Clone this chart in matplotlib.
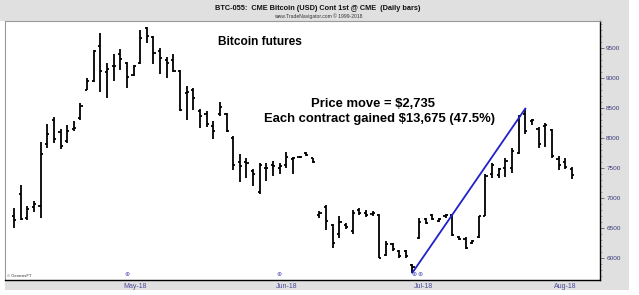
import matplotlib
matplotlib.use("Agg")
import matplotlib.pyplot as plt
from matplotlib.patches import Rectangle
from matplotlib.ticker import MultipleLocator, FixedLocator
import numpy as np

plt.rcParams['font.family'] = ['Liberation Sans', 'DejaVu Sans']

# Daily OHLC bars (Apr 5 2018 - Aug 2 2018)
highs = [6833, 7216, 6872, 6955, 7944, 8233, 8355, 8149, 8216, 8288,
         8594, 9000, 9466, 9749, 9261, 9411, 9494, 9277, 9216, 9799,
         9855, 9705, 9511, 9355, 9411, 9133, 8872, 8844, 8483, 8455,
         8288, 8611, 8427, 8038, 7744, 7666, 7483, 7594, 7594, 7622,
         7594, 7777, 7688, 7705, 7772, 7677, 6788, 6883, 6577, 6705,
         6594, 6799, 6833, 6799, 6788, 6744, 6288, 6260, 6133, 6133,
         5899, 6666, 6677, 6744, 6666, 6744, 6733, 6372, 6355, 6299,
         6705, 7399, 7594, 7511, 7677, 7844, 8388, 8495, 8316, 8188,
         8260, 8149, 7705, 7677, 7522]
lows = [6500, 6638, 6638, 6777, 6677, 7833, 7916, 7816, 7927, 8122,
        8299, 8799, 8944, 8777, 8666, 8955, 9133, 8844, 9038, 9233,
        9594, 9233, 9077, 8999, 9111, 8455, 8299, 8466, 8166, 8188,
        7983, 8372, 8111, 7466, 7277, 7344, 7205, 7066, 7288, 7372,
        7399, 7511, 7410, 7666, 7705, 7594, 6677, 6466, 6177, 6344,
        6483, 6410, 6722, 6688, 6705, 6000, 6038, 6122, 6000, 6000,
        5760, 6316, 6577, 6633, 6610, 6677, 6372, 6299, 6149, 6244,
        6344, 6705, 7333, 7344, 7355, 7427, 7744, 8066, 8222, 7833,
        7855, 7666, 7466, 7483, 7316]
opens = [6700, 7066, 6677, 6850, 6872, 7900, 8300, 8100, 7950, 8150,
         8344, 8799, 8955, 9538, 9100, 9200, 9400, 9250, 9050, 9250,
         9830, 9690, 9450, 9300, 9300, 9120, 8750, 8800, 8450, 8400,
         8200, 8400, 8400, 8000, 7600, 7600, 7450, 7100, 7500, 7550,
         7500, 7550, 7650, 7680, 7760, 7670, 6720, 6850, 6550, 6400,
         6560, 6450, 6800, 6750, 6740, 6720, 6060, 6240, 6120, 6120,
         5880, 6330, 6650, 6720, 6620, 6700, 6720, 6360, 6320, 6260,
         6360, 6710, 7400, 7380, 7500, 7500, 7760, 8400, 8280, 8150,
         8200, 8140, 7650, 7600, 7480]
closes = [6633, 6650, 6816, 6910, 7744, 8066, 7983, 7872, 8122, 8166,
          8538, 8955, 9455, 9122, 9160, 9205, 9316, 9022, 9205, 9677,
          9705, 9427, 9344, 9261, 9122, 8466, 8777, 8677, 8372, 8233,
          8122, 8522, 8120, 7555, 7538, 7594, 7399, 7555, 7511, 7540,
          7540, 7688, 7677, 7690, 7720, 7600, 6760, 6620, 6260, 6600,
          6520, 6760, 6750, 6720, 6760, 6010, 6240, 6150, 6040, 6030,
          5860, 6600, 6590, 6660, 6650, 6720, 6380, 6320, 6170, 6280,
          6700, 7370, 7560, 7480, 7620, 7780, 8370, 8120, 8300, 7900,
          8220, 7700, 7560, 7520, 7380]

month_labels = ["May-18", "Jun-18", "Jul-18", "Aug-18"]
month_pos = [18.2, 41.1, 61.7, 83.0]

# trend line: from low of bar 61 to high of bar 78 (1-based)
trend_idx = [60, 77]

W, H = 639, 295
fig = plt.figure(figsize=(W / 100, H / 100), dpi=100)
fig.patch.set_facecolor('white')

def fx(x):
    return x / W

def fy(y):
    return 1 - y / H

gray = '#e0e0e0'
for (x0, y0, x1, y1) in [(0, 0, 629, 21), (600, 21, 629, 290), (5, 280, 629, 290)]:
    fig.patches.append(Rectangle((fx(x0), fy(y1)), fx(x1 - x0), (y1 - y0) / H,
                                 transform=fig.transFigure, facecolor=gray,
                                 edgecolor='none', zorder=-5))

ax = fig.add_axes([fx(5), fy(280), fx(600 - 5), (280 - 21) / H])
ax.set_facecolor('white')
ax.set_zorder(1)

n = len(highs)
x = np.arange(n)
lw = 1.3
tick = 0.32
ax.vlines(x, lows, highs, color='black', linewidth=lw)
ax.hlines(opens, x - tick, x, color='black', linewidth=lw)
ax.hlines(closes, x, x + tick, color='black', linewidth=lw)

ax.plot([trend_idx[0], trend_idx[1]], [lows[trend_idx[0]], highs[trend_idx[1]]],
        color='#2020cc', linewidth=1.3)

ax.set_xlim(-1.36, 88.25)
ax.set_ylim(5638, 9955)

ax.yaxis.tick_right()
ax.yaxis.set_minor_locator(MultipleLocator(100))
ax.set_yticks([6000, 6500, 7000, 7500, 8000, 8500, 9000, 9500])
ax.tick_params(axis='y', which='major', direction='out', length=3, width=0.6,
               labelsize=4.6, labelcolor='#3a3a7a', color='#666666', pad=1.5)
ax.tick_params(axis='y', which='minor', direction='out', length=1.5, width=0.5, color='#888888')

ax.xaxis.set_major_locator(FixedLocator(month_pos))
ax.set_xticklabels(month_labels)
ax.tick_params(axis='x', which='major', length=0, labelsize=5, labelcolor='#4a4a9a', pad=2.5)

for s in ['left', 'top']:
    ax.spines[s].set_color('#999999')
    ax.spines[s].set_linewidth(0.8)
for s in ['right', 'bottom']:
    ax.spines[s].set_color('black')
    ax.spines[s].set_linewidth(1.0)

# markers near month labels
for px in [127, 279, 414, 420]:
    fig.text(fx(px), fy(275), "\u2295", fontsize=4.5, color='#5555bb',
             ha='center', va='center', family='DejaVu Sans', zorder=5)

fig.text(fx(7), fy(276), "\u00a9 GenesisFT", fontsize=3, color='#333333', ha='left', va='center', zorder=5)

# header text
fig.text(fx(318), fy(8.5), "BTC-055:  CME Bitcoin (USD) Cont 1st @ CME  (Daily bars)",
         fontsize=5.3, fontweight='bold', color='#111111', ha='center', va='center')
fig.text(fx(318), fy(16), "www.TradeNavigator.com \u00a9 1999-2018",
         fontsize=3.6, color='#333333', ha='center', va='center')

# annotations
fig.text(fx(260), fy(42), "Bitcoin futures", fontsize=8.6, fontweight='bold',
         color='black', ha='center', va='center', zorder=5)
fig.text(fx(373), fy(104), "Price move = $2,735", fontsize=9.4, fontweight='bold',
         color='black', ha='center', va='center', zorder=5)
fig.text(fx(379), fy(119.5), "Each contract gained $13,675 (47.5%)", fontsize=9.4, fontweight='bold',
         color='black', ha='center', va='center', zorder=5)

fig.savefig("out.png", dpi=100, facecolor='white')
